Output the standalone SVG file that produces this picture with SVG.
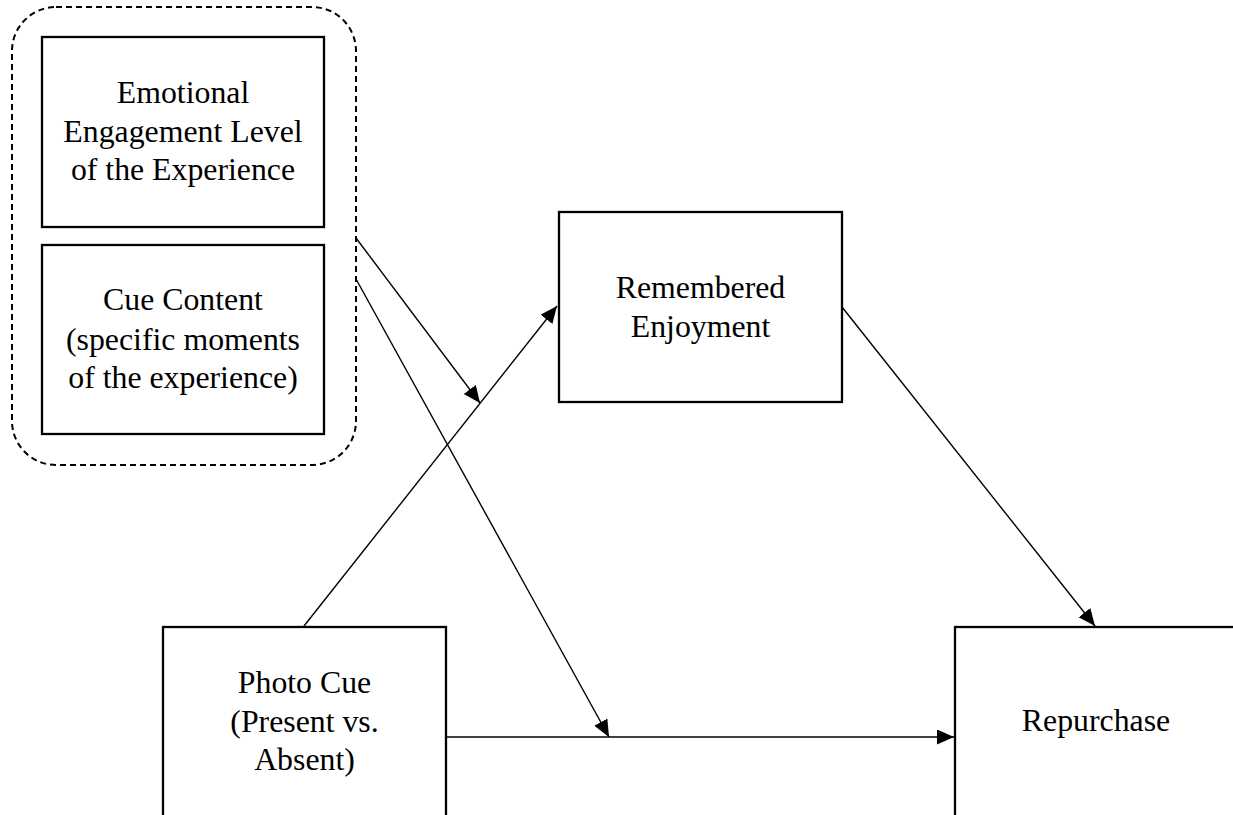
<svg xmlns="http://www.w3.org/2000/svg" width="1233" height="815" viewBox="0 0 1233 815">
<style>
.box{fill:#fff;stroke:#000;stroke-width:2.3}
.group{fill:none;stroke:#000;stroke-width:2;stroke-dasharray:6 4}
.lbl{font-family:"Liberation Serif","Times New Roman",serif;font-size:31.8px;fill:#000;text-anchor:middle}
.conn{stroke:#000;stroke-width:1.4;fill:none}
</style>
<defs>
<marker id="arr" markerUnits="userSpaceOnUse" markerWidth="18" markerHeight="16" refX="17" refY="7.5" orient="auto">
<path d="M0,0 L17,7.5 L0,15 z" fill="#000"/>
</marker>
</defs>
<rect width="1233" height="815" fill="#fff"/>
<g id="moderators">
<rect class="group" x="12" y="7" width="344" height="458" rx="44" ry="44"/>
</g>
<g id="emotional">
<rect class="box" x="42" y="37" width="282" height="190"/>
<text class="lbl" x="183" y="102.5">Emotional</text>
<text class="lbl" x="183" y="141.5">Engagement Level</text>
<text class="lbl" x="183" y="180">of the Experience</text>
</g>
<g id="cue">
<rect class="box" x="42" y="245" width="282" height="189"/>
<text class="lbl" x="183" y="310">Cue Content</text>
<text class="lbl" x="183" y="349.5">(specific moments</text>
<text class="lbl" x="183" y="388">of the experience)</text>
</g>
<g id="remembered">
<rect class="box" x="559" y="212" width="283" height="190"/>
<text class="lbl" x="700.5" y="298">Remembered</text>
<text class="lbl" x="700.5" y="337">Enjoyment</text>
</g>
<g id="photo">
<rect class="box" x="163" y="627" width="283" height="200"/>
<text class="lbl" x="304.5" y="693">Photo Cue</text>
<text class="lbl" x="304.5" y="732">(Present vs.</text>
<text class="lbl" x="304.5" y="770">Absent)</text>
</g>
<g id="repurchase">
<rect class="box" x="955" y="627" width="283" height="200"/>
<text class="lbl" x="1096" y="731">Repurchase</text>
</g>
<g id="connectors">
<line class="conn" x1="304" y1="626" x2="557" y2="306" marker-end="url(#arr)"/>
<line class="conn" x1="356" y1="238" x2="480" y2="403" marker-end="url(#arr)"/>
<line class="conn" x1="356" y1="279" x2="609" y2="737" marker-end="url(#arr)"/>
<line class="conn" x1="446" y1="737" x2="954" y2="737" marker-end="url(#arr)"/>
<line class="conn" x1="842" y1="307" x2="1095" y2="626" marker-end="url(#arr)"/>
</g>
</svg>
